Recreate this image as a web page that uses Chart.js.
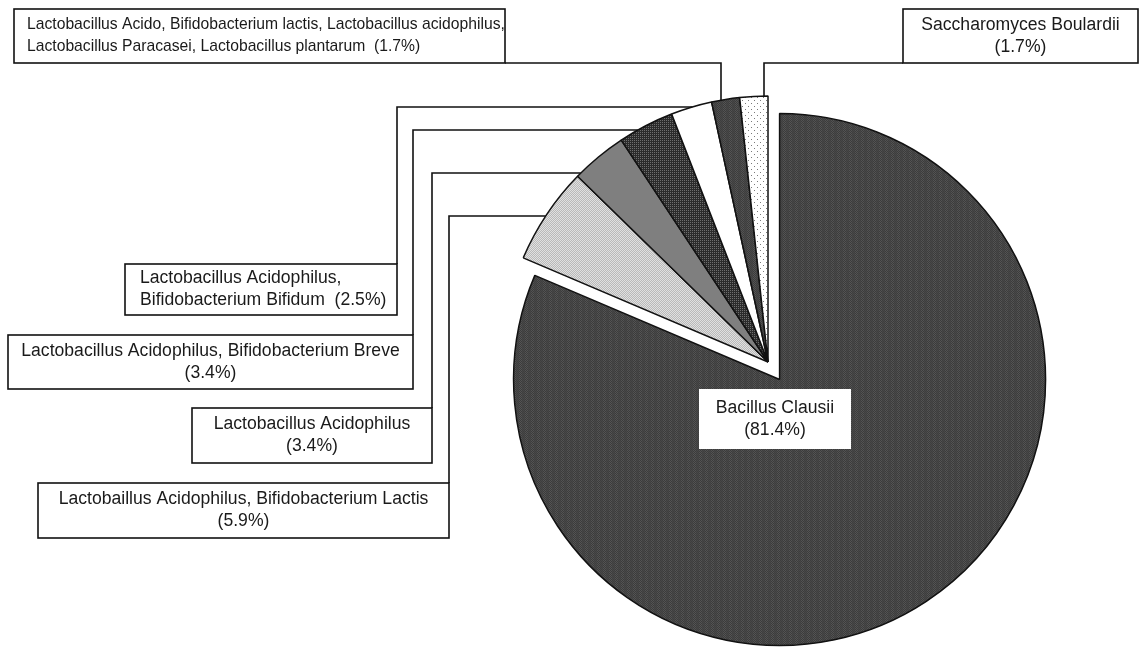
<!DOCTYPE html>
<html>
<head>
<meta charset="utf-8">
<title>Probiotic products</title>
<script src="https://cdn.jsdelivr.net/npm/chart.js@4.4.1/dist/chart.umd.min.js"></script>
<style>
  html, body { margin: 0; padding: 0; background: #fff; }
  #wrap { width: 1140px; height: 648px; }
</style>
</head>
<body>
<div id="wrap"><canvas id="pie" width="1140" height="648"></canvas></div>
<script>
// slices, clockwise from 12 o'clock
const products = [
    ["Bacillus Clausii"],
    ["Lactobaillus Acidophilus, Bifidobacterium Lactis"],
    ["Lactobacillus Acidophilus"],
    ["Lactobacillus Acidophilus, Bifidobacterium Breve"],
    ["Lactobacillus Acidophilus,", "Bifidobacterium Bifidum"],
    ["Lactobacillus Acido, Bifidobacterium lactis, Lactobacillus acidophilus,", "Lactobacillus Paracasei, Lactobacillus plantarum"],
    ["Saccharomyces Boulardii"]
];
const shares = [81.4, 5.9, 3.4, 3.4, 2.5, 1.7, 1.7];

// label boxes (layout only) - pct on its own line unless inline
const boxes = [
    { x: 699, y: 389, w: 152, h: 60, align: "center", border: false },
    { x: 38, y: 483, w: 411, h: 55, align: "center", leaderY: 216 },
    { x: 192, y: 408, w: 240, h: 55, align: "center", leaderY: 173 },
    { x: 8, y: 335, w: 405, h: 54, align: "center", leaderY: 130 },
    { x: 125, y: 264, w: 272, h: 51, align: "left", pad: 15, inline: true, leaderY: 107 },
    { x: 14, y: 9, w: 491, h: 54, align: "left", pad: 13, inline: true, size: 15.7, leaderX: 721, side: "right" },
    { x: 903, y: 9, w: 235, h: 54, align: "center", leaderX: 764, side: "left" }
];

const FONT = "'Liberation Sans', Arial, sans-serif";
const EXPLODE = 21; // first slice pulled out

const ctx = document.getElementById("pie").getContext("2d");

function tile(w, h, paint) {
    const c = document.createElement("canvas");
    c.width = w; c.height = h;
    const g = c.getContext("2d");
    for (let y = 0; y < h; y++) {
        for (let x = 0; x < w; x++) {
            g.fillStyle = paint(x, y);
            g.fillRect(x, y, 1, 1);
        }
    }
    return ctx.createPattern(c, "repeat");
}

const stripes = tile(6, 2, (x, y) => {
    const chk = (x + y) % 2;
    return Math.floor(x / 3) % 2 ? (chk ? "#545454" : "#3b3b3b") : (chk ? "#484848" : "#3e3e3e");
});
const fills = [
    stripes,
    tile(2, 2, (x, y) => (x + y) % 2 ? "#b9b9b9" : "#e0e0e0"),
    "#7f7f7f",
    tile(2, 2, (x, y) => (x === 0 && y === 0) ? "#6e6e6e" : "#2b2b2b"),
    "#ffffff",
    stripes,
    tile(6, 6, (x, y) => ((x === 1 && y === 1) || (x === 4 && y === 4)) ? "#7a7a7a" : "#ffffff")
];

// pull the big slice out along its middle angle
const explodePlugin = {
    id: "explode",
    afterUpdate(chart) {
        const arc = chart.getDatasetMeta(0).data[0];
        const mid = (arc.startAngle + arc.endAngle) / 2;
        arc.x += Math.cos(mid) * EXPLODE;
        arc.y += Math.sin(mid) * EXPLODE;
    }
};

const labelPlugin = {
    id: "boxLabels",
    afterDatasetsDraw(chart) {
        const c = chart.ctx;
        const arcs = chart.getDatasetMeta(0).data;
        c.save();
        c.strokeStyle = "#111";
        c.lineWidth = 1.6;

        boxes.forEach((b, i) => {
            const arc = arcs[i];
            const cx = arc.x, cy = arc.y, r = arc.outerRadius;

            // leader line
            c.beginPath();
            if (b.leaderY !== undefined) {
                const ex = cx - Math.sqrt(Math.max(r * r - (b.leaderY - cy) ** 2, 0));
                c.moveTo(b.x + b.w, b.y);
                c.lineTo(b.x + b.w, b.leaderY);
                c.lineTo(ex, b.leaderY);
            } else if (b.leaderX !== undefined) {
                const ey = cy - Math.sqrt(Math.max(r * r - (b.leaderX - cx) ** 2, 0));
                const sx = b.side === "right" ? b.x + b.w : b.x;
                c.moveTo(sx, b.y + b.h);
                c.lineTo(b.leaderX, b.y + b.h);
                c.lineTo(b.leaderX, ey);
            }
            c.stroke();

            // box
            c.fillStyle = "#fff";
            c.fillRect(b.x, b.y, b.w, b.h);
            if (b.border !== false) c.strokeRect(b.x, b.y, b.w, b.h);

            // text
            const pct = "(" + shares[i].toFixed(1) + "%)";
            const lines = products[i].slice();
            if (b.inline) lines[lines.length - 1] += "  " + pct;
            else lines.push(pct);
            c.fillStyle = "#1a1a1a";
            c.font = (b.size || 17.6) + "px " + FONT;
            c.textBaseline = "middle";
            c.textAlign = b.align;
            const tx = b.align === "left" ? b.x + (b.pad || 10) : b.x + b.w / 2;
            const gap = 22;
            const y0 = b.y + b.h / 2 - gap * (lines.length - 1) / 2;
            lines.forEach((ln, k) => c.fillText(ln, tx, y0 + k * gap));
        });
        c.restore();
    }
};

new Chart(ctx, {
    type: "pie",
    data: {
        labels: products.map(p => p.join(" ")),
        datasets: [{
            data: shares,
            backgroundColor: fills,
            borderColor: "#111",
            borderWidth: 1.5,
            radius: 266
        }]
    },
    options: {
        responsive: false,
        animation: false,
        events: [],
        rotation: 0,
        layout: { padding: { left: 396, right: 0, top: 76, bottom: 0 } },
        plugins: {
            legend: { display: false },
            tooltip: { enabled: false }
        }
    },
    plugins: [explodePlugin, labelPlugin]
});
</script>
</body>
</html>
